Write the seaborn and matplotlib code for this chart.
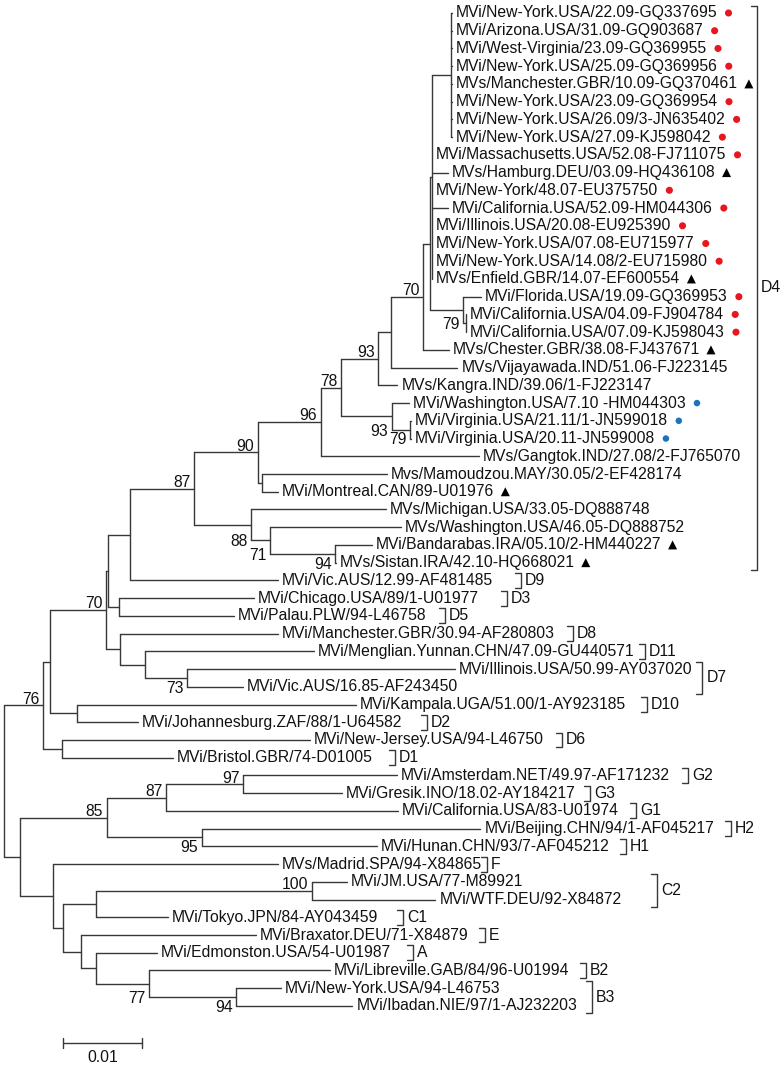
import re
import matplotlib
matplotlib.use('Agg')
import matplotlib.pyplot as plt
import pandas as pd
import seaborn as sns

# leaf labels, top to bottom
taxa = [
    "MVi/New-York.USA/22.09-GQ337695", "MVi/Arizona.USA/31.09-GQ903687",
    "MVi/West-Virginia/23.09-GQ369955", "MVi/New-York.USA/25.09-GQ369956",
    "MVs/Manchester.GBR/10.09-GQ370461", "MVi/New-York.USA/23.09-GQ369954",
    "MVi/New-York.USA/26.09/3-JN635402", "MVi/New-York.USA/27.09-KJ598042",
    "MVi/Massachusetts.USA/52.08-FJ711075", "MVs/Hamburg.DEU/03.09-HQ436108",
    "MVi/New-York/48.07-EU375750", "MVi/California.USA/52.09-HM044306",
    "MVi/Illinois.USA/20.08-EU925390", "MVi/New-York.USA/07.08-EU715977",
    "MVi/New-York.USA/14.08/2-EU715980", "MVs/Enfield.GBR/14.07-EF600554",
    "MVi/Florida.USA/19.09-GQ369953", "MVi/California.USA/04.09-FJ904784",
    "MVi/California.USA/07.09-KJ598043", "MVs/Chester.GBR/38.08-FJ437671",
    "MVs/Vijayawada.IND/51.06-FJ223145", "MVs/Kangra.IND/39.06/1-FJ223147",
    "MVi/Washington.USA/7.10 -HM044303", "MVi/Virginia.USA/21.11/1-JN599018",
    "MVi/Virginia.USA/20.11-JN599008", "MVs/Gangtok.IND/27.08/2-FJ765070",
    "Mvs/Mamoudzou.MAY/30.05/2-EF428174", "MVi/Montreal.CAN/89-U01976",
    "MVs/Michigan.USA/33.05-DQ888748", "MVs/Washington.USA/46.05-DQ888752",
    "MVi/Bandarabas.IRA/05.10/2-HM440227", "MVs/Sistan.IRA/42.10-HQ668021",
    "MVi/Vic.AUS/12.99-AF481485", "MVi/Chicago.USA/89/1-U01977",
    "MVi/Palau.PLW/94-L46758", "MVi/Manchester.GBR/30.94-AF280803",
    "MVi/Menglian.Yunnan.CHN/47.09-GU440571", "MVi/Illinois.USA/50.99-AY037020",
    "MVi/Vic.AUS/16.85-AF243450", "MVi/Kampala.UGA/51.00/1-AY923185",
    "MVi/Johannesburg.ZAF/88/1-U64582", "MVi/New-Jersey.USA/94-L46750",
    "MVi/Bristol.GBR/74-D01005", "MVi/Amsterdam.NET/49.97-AF171232",
    "MVi/Gresik.INO/18.02-AY184217", "MVi/California.USA/83-U01974",
    "MVi/Beijing.CHN/94/1-AF045217", "MVi/Hunan.CHN/93/7-AF045212",
    "MVs/Madrid.SPA/94-X84865", "MVi/JM.USA/77-M89921",
    "MVi/WTF.DEU/92-X84872", "MVi/Tokyo.JPN/84-AY043459",
    "MVi/Braxator.DEU/71-X84879", "MVi/Edmonston.USA/54-U01987",
    "MVi/Libreville.GAB/84/96-U01994", "MVi/New-York.USA/94-L46753",
    "MVi/Ibadan.NIE/97/1-AJ232203",
]

red_dot = [0, 1, 2, 3, 5, 6, 7, 8, 10, 11, 12, 13, 14, 16, 17, 18]
triangle = [4, 9, 15, 19, 27, 30, 31]
blue_dot = [22, 23, 24]

# tree: leaves are indices into taxa, internal labels are bootstrap values,
# branch lengths in units of 1e-4 substitutions/site
LENGTH_UNIT = 1e-4
tree_newick = """
(
 (
  (
   (
    (
     (
      (
       (
        (
         (
          (
           (
            (
             (
              (
               (0:1,1:1,2:1,3:1,4:1,5:1,6:1,7:1):24,
               8:0,9:20,10:0,11:20,12:0,13:0,14:0,15:0
              ):3,
              (16:23,(17:0,18:0):4)79:42
             ):8,
             19:32
            )70:41,
            20:84
           ):16,
           21:24
          )93:48,
          (22:22,(23:1,24:1)79:23)93:65
         )78:25,
         25:200
        )96:80,
        (26:158,27:20):6
       )90:80,
       (28:170,(29:165,(30:47,31:1)94:82)71:24)88:72
      )87:81,
      32:187
     ):28,
     (33:171,34:146):13
    ):3,
    (35:200,(36:213,(37:339,38:70)73:53):32):18
   )70:71,
   (39:353,40:77):34
  ):9,
  (41:314,42:141):24
 )76:49,
 (
  (((43:194,44:125)97:98,45:294)87:75,(46:353,47:222)95:120)85:110,
  (48:285,(((49:44,50:156)100:273,51:90):42,(52:222,(53:77,(54:230,(55:56,56:147)94:111)77:66):20):22):13):42
 ):20
);
"""

clade_names = ["D4", "D9", "D3", "D5", "D8", "D11", "D7", "D10", "D2", "D6", "D1",
               "G2", "G3", "G1", "H2", "H1", "F", "C2", "C1", "E", "A", "B2", "B3"]
clade_first = [0, 32, 33, 34, 35, 36, 37, 39, 40, 41, 42,
               43, 44, 45, 46, 47, 48, 49, 51, 52, 53, 54, 55]
clade_last = [31, 32, 33, 34, 35, 36, 38, 39, 40, 41, 42,
              43, 44, 45, 46, 47, 48, 50, 51, 52, 53, 54, 56]

# layout -------------------------------------------------------------
bracket_x = [0.0953, 0.0654, 0.0637, 0.0558, 0.0720, 0.0811, 0.0884, 0.0814,
             0.0535, 0.0706, 0.0495, 0.0866, 0.0742, 0.0800, 0.0920, 0.0787,
             0.0611, 0.0827, 0.0505, 0.0609, 0.0518, 0.0737, 0.0744]
support_below = {16, 22, 23, 28, 29, 30, 37, 46, 54, 55}   # first leaf of nodes labelled underneath

LINE = '#383838'
TEXT = '#111111'
FS = 11.3


def parse_newick(text):
    s = re.sub(r'\s+', '', text).rstrip(';')
    pos = 0

    def read_node():
        nonlocal pos
        kids = []
        if s[pos] == '(':
            pos += 1
            kids.append(read_node())
            while s[pos] == ',':
                pos += 1
                kids.append(read_node())
            pos += 1
        m = re.match(r'(\w*)(?::([\d.]+))?', s[pos:])
        pos += m.end()
        return {'name': m.group(1), 'length': float(m.group(2) or 0) * LENGTH_UNIT, 'kids': kids}

    return read_node()


segments = []
support = []
tips = {}


def place(node, x_parent):
    x = x_parent + node['length']
    if node['kids']:
        res = [place(k, x) for k in node['kids']]
        y = (res[0][0] + res[-1][0]) / 2
        first = res[0][1]
        segments.append((x, res[0][0], x, res[-1][0]))
        if node['name']:
            support.append((x, y, res[-1][0], node['name'], first))
    else:
        first = int(node['name'])
        y = float(first)
        tips[first] = x
    if node['length'] > 0:
        segments.append((x_parent, y, x, y))
    return y, first


def main():
    sns.set_theme(style='white')
    plt.rcParams['font.family'] = ['Liberation Sans', 'DejaVu Sans']

    root = parse_newick(tree_newick)
    place(root, 0.0)

    rows = []
    for k, (x0, y0, x1, y1) in enumerate(segments):
        rows.append({'seg': k, 'x': x0, 'y': y0})
        rows.append({'seg': k, 'x': x1, 'y': y1})
    seg_df = pd.DataFrame(rows)

    fig = plt.figure(figsize=(7.84, 10.68), dpi=100)
    ax = fig.add_axes([0, 0, 1, 1])
    sns.lineplot(data=seg_df, x='x', y='y', units='seg', estimator=None, sort=False,
                 color=LINE, linewidth=1.0, ax=ax, legend=False)
    ax.set_xlim(-4 / 7900, 780 / 7900)
    ax.set_ylim(59.50, -0.733)
    ax.set_axis_off()

    # leaf labels
    texts = {}
    for i, name in enumerate(taxa):
        texts[i] = ax.text(tips[i] + 0.0005, i, name, ha='left', va='center',
                           fontsize=FS, color=TEXT)

    # bootstrap values
    for x, y, y_last, lab, first in support:
        if first in support_below:
            ax.annotate(lab, xy=(x, y_last), xytext=(-2.5, -1), textcoords='offset points',
                        ha='right', va='center', fontsize=FS, color=TEXT)
        else:
            ax.annotate(lab, xy=(x, y), xytext=(-2.5, 1.2), textcoords='offset points',
                        ha='right', va='baseline', fontsize=FS, color=TEXT)

    # symbols after the labels
    fig.canvas.draw()
    renderer = fig.canvas.get_renderer()
    inv = ax.transData.inverted()
    sym_rows = []
    for kind, idx in [('red', red_dot), ('tri', triangle), ('blue', blue_dot)]:
        for i in idx:
            bb = texts[i].get_window_extent(renderer)
            xd = inv.transform((bb.x1 + 11, 0))[0]
            sym_rows.append({'x': xd, 'y': i, 'kind': kind})
    sym = pd.DataFrame(sym_rows)
    sns.scatterplot(data=sym[sym.kind == 'red'], x='x', y='y', color='#e8161e', s=26,
                    marker='o', edgecolor='none', ax=ax, legend=False)
    sns.scatterplot(data=sym[sym.kind == 'blue'], x='x', y='y', color='#1c74bd', s=22,
                    marker='o', edgecolor='none', ax=ax, legend=False)
    sns.scatterplot(data=sym[sym.kind == 'tri'], x='x', y='y', color='black', s=42,
                    marker='^', edgecolor='none', ax=ax, legend=False)

    # clade brackets
    tick = 0.00076
    for name, a, b, bx in zip(clade_names, clade_first, clade_last, bracket_x):
        y0, y1 = a - 0.42, b + 0.42
        ax.plot([bx - tick, bx, bx, bx - tick], [y0, y0, y1, y1], color=LINE, lw=1.0)
        ax.text(bx + 0.0005, (y0 + y1) / 2, name, ha='left', va='center',
                fontsize=FS, color=TEXT)

    # scale bar
    sx0, sy = 0.00747, 58.09
    ax.plot([sx0, sx0 + 0.01], [sy, sy], color=LINE, lw=1.0)
    ax.plot([sx0, sx0], [sy - 0.28, sy + 0.28], color=LINE, lw=1.0)
    ax.plot([sx0 + 0.01, sx0 + 0.01], [sy - 0.28, sy + 0.28], color=LINE, lw=1.0)
    ax.text(sx0 + 0.005, 58.9, '0.01', ha='center', va='center', fontsize=FS, color=TEXT)

    ax.set_xlim(-4 / 7900, 780 / 7900)
    ax.set_ylim(59.50, -0.733)
    fig.savefig('out.png', dpi=100)
    plt.close(fig)


if __name__ == '__main__':
    main()
